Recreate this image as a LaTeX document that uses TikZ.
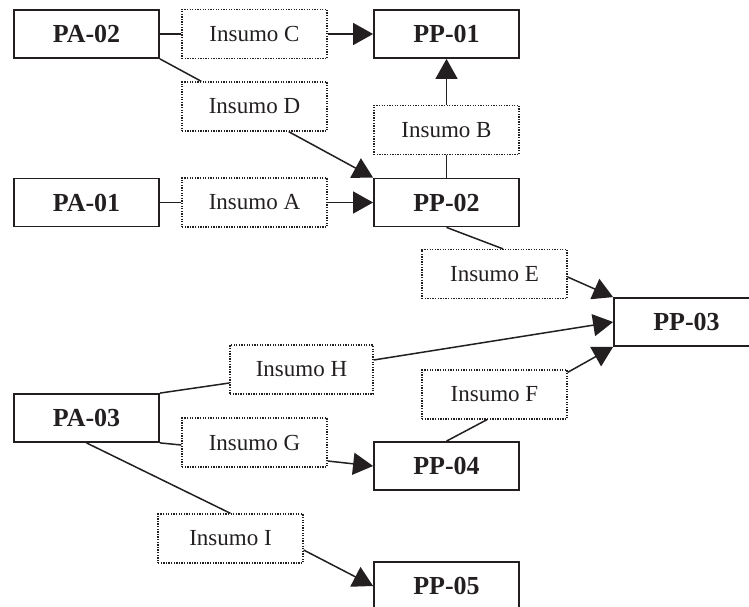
\documentclass[tikz,border=0pt]{standalone}
\usepackage{fontspec}
\setmainfont{Liberation Serif}
\usetikzlibrary{arrows.meta}
\definecolor{ink}{RGB}{35,31,32}
\begin{document}
\begin{tikzpicture}[x=1pt,y=-1pt,
  proc/.style={draw=ink, line width=1.8pt, minimum width=145pt, minimum height=48pt,
    inner sep=0pt, text=ink, font=\bfseries\fontsize{26}{30}\selectfont},
  input/.style={draw=ink, line width=1.3pt, dash pattern=on 1.3pt off 1.3pt,
    minimum width=145pt, minimum height=49pt, inner sep=0pt, text=ink,
    font=\fontsize{23}{27}\selectfont},
  link/.style={draw=ink, line width=1.5pt},
  arr/.style={link, -{Triangle[length=20pt,width=22pt]}}]
\useasboundingbox (0,0) rectangle (749,607);
\clip (0,0) rectangle (749,607);

% source and process boxes
\node[proc] (pa02) at (86.5,34) {PA-02};
\node[proc] (pp01) at (446.5,34) {PP-01};
\node[proc] (pa01) at (86.5,202.5) {PA-01};
\node[proc] (pp02) at (446.5,202.5) {PP-02};
\node[proc] (pp03) at (686.5,322) {PP-03};
\node[proc] (pa03) at (86.5,418) {PA-03};
\node[proc] (pp04) at (446.5,466) {PP-04};
\node[proc] (pp05) at (446.5,586) {PP-05};

% inputs
\node[input] (insc) at (254.5,34) {Insumo C};
\node[input] (insd) at (254.5,106.5) {Insumo D};
\node[input] (insb) at (446.5,130) {Insumo B};
\node[input] (insa) at (254.5,202.5) {Insumo A};
\node[input] (inse) at (494.5,274) {Insumo E};
\node[input,minimum width=143pt] (insh) at (301.5,369.5) {Insumo H};
\node[input] (insf) at (494.5,394.5) {Insumo F};
\node[input] (insg) at (254.5,442.5) {Insumo G};
\node[input] (insi) at (230.5,538.5) {Insumo I};

% flows
\draw[link] (pa02.east) -- (insc.west);
\draw[arr] (insc.east) -- (pp01.west);
\draw[link] (pa02.south east) -- ([xshift=20pt]insd.north west);
\draw[arr] ([xshift=-39pt]insd.south east) -- (pp02.north west);
\draw[link] (pa01.east) -- (insa.west);
\draw[arr] (insa.east) -- (pp02.west);
\draw[link] (pp02.north) -- (insb.south);
\draw[arr] (insb.north) -- (pp01.south);
\draw[link] (pp02.south) -- ([xshift=8.5pt]inse.north);
\draw[arr] ([yshift=-3pt]inse.east) -- (pp03.north west);
\draw[link] (pa03.north east) -- ([yshift=-13.5pt]insh.west);
\draw[arr] ([yshift=9.5pt]insh.east) -- (pp03.west);
\draw[link] (pp04.north) -- ([xshift=-7.5pt]insf.south);
\draw[arr] ([yshift=-3pt]insf.north east) -- (pp03.south west);
\draw[link] (pa03.south east) -- ([yshift=-2.5pt]insg.west);
\draw[arr] ([yshift=-18.5pt]insg.east) -- (pp04.west);
\draw[link] (pa03.south) -- (insi.north);
\draw[arr] ([yshift=-11.5pt]insi.east) -- (pp05.west);
\end{tikzpicture}
\end{document}
